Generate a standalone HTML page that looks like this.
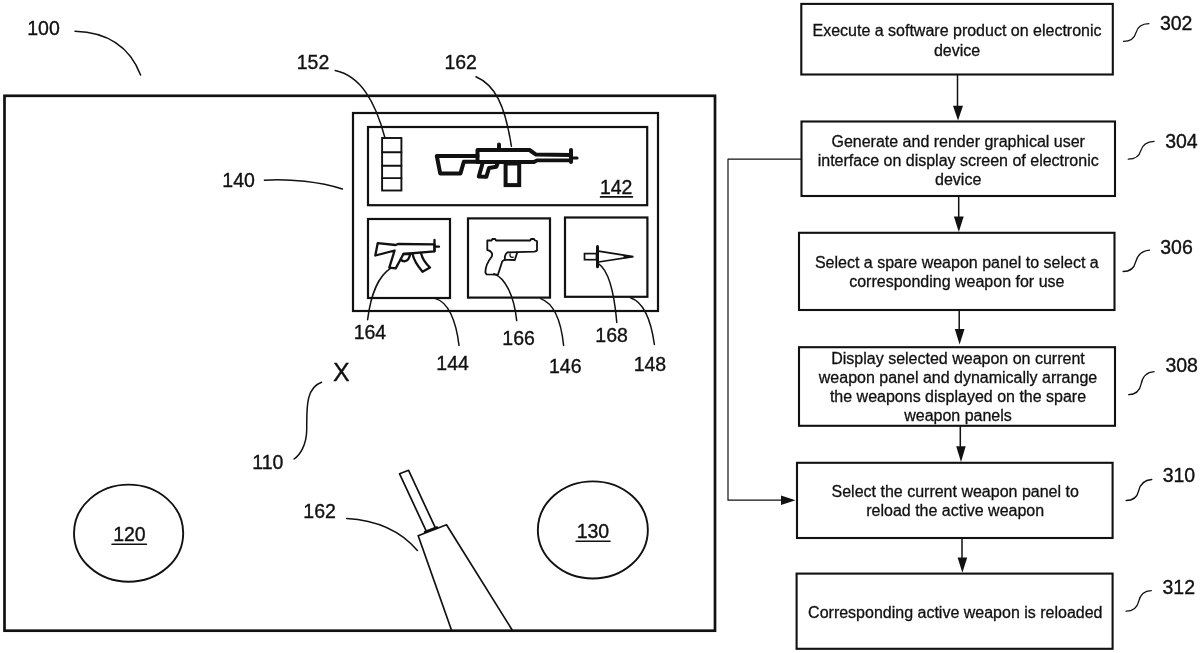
<!DOCTYPE html>
<html><head><meta charset="utf-8">
<style>
html,body{margin:0;padding:0;background:#fff;width:1200px;height:653px;overflow:hidden}
svg{display:block;will-change:transform}
.t{font-family:"Liberation Sans",sans-serif;font-size:16px;fill:#111;stroke:#111;stroke-width:0.3px;text-anchor:middle}
.l{font-family:"Liberation Sans",sans-serif;font-size:19.5px;fill:#111;stroke:#111;stroke-width:0.35px;text-anchor:middle}
.s{fill:none;stroke:#111;stroke-linecap:round;stroke-linejoin:round}
.s rect{stroke-linejoin:miter}
</style></head>
<body>
<svg width="1200" height="653" viewBox="0 0 1200 653">
<rect width="1200" height="653" fill="#fff"/>

<!-- ===== LEFT: device screen ===== -->
<g class="s">
  <rect x="4.5" y="95.8" width="710.5" height="534.9" stroke-width="2.7"/>
  <!-- panel 140 -->
  <rect x="353" y="113" width="305" height="198" stroke-width="2.2"/>
  <rect x="368" y="127" width="279.2" height="78.2" stroke-width="2.2"/>
  <rect x="368" y="219" width="82" height="79" stroke-width="2.2"/>
  <rect x="468" y="218.4" width="82" height="79.2" stroke-width="2.2"/>
  <rect x="565" y="217.5" width="82.4" height="79.3" stroke-width="2.2"/>
  <!-- ammo 152 -->
  <rect x="382.1" y="138" width="19.3" height="52.5" stroke-width="1.9"/>
  <path d="M382.1 152.2H401.4M382.1 165.8H401.4M382.1 178.1H401.4" stroke-width="1.9"/>
</g>

<!-- rifle 162 in 142 -->
<g class="s" stroke-width="4">
  <path d="M477.5 156 L436.8 156 L440.2 173.4 L460.5 173.4 L463.8 161.8 L477.5 161.8"/>
  <path d="M477.5 162 L477.5 150 L529.5 150 L536 154.6 L571 155"/>
  <path d="M477.5 162 L534 162 L537 160.3 L571 160.3" stroke-width="3.8"/>
  <path d="M571 150 L571 162"/>
  <path d="M571 158 L577 158" stroke-width="3.2"/>
  <path d="M499 144.5 L499 149"/>
  <path d="M482.5 163.5 L478.8 176.5 L486.3 176.8 L489 168 L496.3 166.8 L497.5 163.5"/>
  <rect x="505.6" y="163.5" width="13.6" height="21.6"/>
</g>

<!-- smg 164 -->
<g class="s" stroke-width="2.3">
  <path d="M403.4 254 L434.5 251.3 L434.5 244.3 L398 244 L395.7 245 L377.7 243.2 L375.3 255.5 L394.6 250.5 L389.3 267.6 L395.7 268.4 L400.8 259"/>
  <path d="M403.4 254 L410.2 254 C409.5 258 408.5 260.5 405 261.2 C403 261.5 401.5 260.5 400.8 259 Z"/>
  <path d="M412.5 253.8 C413.5 259 416 264 422.5 271.8 L430 267.5 C424 262 422 258 421 252.8"/>
  <path d="M434.5 240 L434.5 251.3M434.5 246.7 L439 246.7"/>
</g>

<!-- pistol 166 -->
<g class="s" stroke-width="1.8">
  <path d="M487.3 240.5 L491.6 240.5 L492.4 239 L495.2 239 L496 240.5 L530.2 240.5 L531 239 L534 239 L535 240.5 L537 241 L537 250.6 L534.5 251.6 L507.5 252.3 C505.3 254 504.5 257 505 259.8 L503.8 260.2 L502.2 261.4 L498 274.6 L486.6 274.4 L485.4 272.6 C485.2 267 487.5 262 491.8 256.5 C492.8 253.8 491.5 250.6 487.3 250 Z"/>
  <path d="M505 259.8 L514.8 260 L517.2 252.5"/>
  <path d="M510.2 254 C509.5 256.5 511 257.6 513.2 257.2" stroke-width="1.3"/>
</g>

<!-- knife 168 -->
<g class="s">
  <rect x="584.5" y="253.6" width="12" height="6.1" stroke-width="1.7" stroke-linejoin="miter"/>
  <path d="M597.5 246.5 L597.5 266.8" stroke-width="3"/>
  <path d="M598.5 251.2 L633.3 256.7 L598.5 262" stroke-width="1.7" stroke-linejoin="miter"/>
  <path d="M624 255.3 L633.3 256.7 L624 258.2 Z" fill="#111" stroke-width="0.5"/>
</g>

<!-- gun 162 bottom -->
<g class="s" stroke-width="1.7">
  <path d="M426.5 531.7 L399.6 473.8 L408.6 470.3 L435.5 528.2"/>
  <path d="M451.8 631 L418.2 535.8 L446.5 524.8 L512.8 631"/>
  <path d="M425 531.9 L437 527.5" stroke-width="2.6"/>
</g>

<!-- ellipses -->
<g class="s" stroke-width="1.9">
  <ellipse cx="128.6" cy="533.2" rx="54.6" ry="48.6"/>
  <ellipse cx="592.85" cy="529.95" rx="55" ry="48.6"/>
</g>

<!-- leaders -->
<g class="s" stroke-width="1.5">
  <path d="M75 31.3 C100 32 127 40 140.6 75"/>
  <path d="M335.2 70.6 C360 76 375 100 385 138"/>
  <path d="M476 76.8 C495 85 505 105 511.4 146.2"/>
  <path d="M264.4 180.2 C290 178.5 320 182 342.4 189"/>
  <path d="M390.5 268.3 C380 275 371 292 367.6 319.7"/>
  <path d="M435.5 298.6 C448 302 456 320 459 345.4"/>
  <path d="M493.8 273.8 C505 278 514 295 516.7 320.6"/>
  <path d="M540.6 298.6 C553 303 561 320 563.6 345.4"/>
  <path d="M598.4 263.7 C608 270 614 290 616.8 322.5"/>
  <path d="M630.5 297.7 C643 302 651 320 654.4 344.5"/>
  <path d="M321.6 382.2 C305 388 307 410 306.7 430 C306.5 445 300 455 294.1 459"/>
  <path d="M346.7 518.4 C375 520 400 530 417.4 550.4"/>
</g>

<!-- labels -->
<g class="l">
  <text x="43.5" y="34.8">100</text>
  <text x="313" y="69.4">152</text>
  <text x="460.7" y="69.2">162</text>
  <text x="238.6" y="187">140</text>
  <text x="616.2" y="194.4">142</text>
  <text x="369.9" y="339">164</text>
  <text x="452.6" y="370.2">144</text>
  <text x="518.6" y="344.5">166</text>
  <text x="565.3" y="373">146</text>
  <text x="611.6" y="341.8">168</text>
  <text x="649.9" y="371.2">148</text>
  <text x="267.9" y="468.8">110</text>
  <text x="129.4" y="540.7">120</text>
  <text x="592.9" y="537.8">130</text>
  <text x="319.6" y="518.4">162</text>
  <text x="341.3" y="381.4" style="font-size:25px">X</text>
  <text x="1176.2" y="30">302</text>
  <text x="1181.4" y="147.9">304</text>
  <text x="1176.5" y="253.7">306</text>
  <text x="1181.7" y="372.4">308</text>
  <text x="1178.9" y="482.3">310</text>
  <text x="1178.8" y="593.6">312</text>
</g>
<g class="s" stroke-width="1.6">
  <path d="M600.6 196.9H632.4" stroke-width="1.7"/>
  <path d="M112 544.3H146.4"/>
  <path d="M576.1 541.2H610"/>
</g>

<!-- ===== RIGHT: flowchart ===== -->
<g class="s" stroke-width="2.1">
  <rect x="801.3" y="3.9" width="311.5" height="70.6"/>
  <rect x="801.5" y="121.5" width="313.5" height="74.5"/>
  <rect x="799" y="232.8" width="315.5" height="77.2"/>
  <rect x="799" y="347.2" width="316" height="78.6"/>
  <rect x="797" y="462.8" width="315.6" height="75.2"/>
  <rect x="796.6" y="573.6" width="316" height="75.2"/>
</g>
<!-- arrows -->
<g class="s" stroke-width="1.5">
  <path d="M957.5 75.5V106M958.7 197V216.4M959.2 311V329M960.3 426.8V446.2M962 539V557.6"/>
  <path d="M728 159.2H801M728 159.2V500.2H782" stroke-width="1.2"/>
</g>
<g fill="#111">
  <polygon points="953,105.8 963,105.8 958,120.5"/>
  <polygon points="953.9,216.4 963.7,216.4 958.8,232"/>
  <polygon points="954.8,329 964.5,329 959.6,344.6"/>
  <polygon points="956.2,446.2 965.7,446.2 961,461.9"/>
  <polygon points="957.6,557.6 967.2,557.6 962.4,572.7"/>
  <polygon points="781,495.6 795.5,500.2 781,504.9"/>
</g>
<!-- squiggles -->
<g class="s" stroke-width="1.3">
  <path d="M1123.4 41.3c7 0 11-3 12.5-8.5c1.5-5.5 6-9 13-9.1"/>
  <path d="M1128.3 159.2c7 0 11-3 12.5-8.5c1.5-5.5 6-9 13.3-9.3"/>
  <path d="M1123.1 271.5c7 0 11-3 12.5-9.5c1.5-6.5 6-11 13.9-11.8"/>
  <path d="M1128.6 394.7c7 0 11-3 12.5-10.5c1.5-8 6-12 13-12.5"/>
  <path d="M1126.1 500.5c7 0 11-3 12.5-9.5c1.5-7 6-11 13.2-11.5"/>
  <path d="M1126.1 611.2c7 0 11-3 12.5-9.5c1.5-7 6-11 12.7-11.1"/>
</g>
<!-- box texts -->
<g class="t">
  <text x="957" y="36.3">Execute a software product on electronic</text>
  <text x="957" y="55.6">device</text>
  <text x="958.2" y="146.9">Generate and render graphical user</text>
  <text x="958.2" y="165.8">interface on display screen of electronic</text>
  <text x="958.2" y="184.7">device</text>
  <text x="956.8" y="268.3">Select a spare weapon panel to select a</text>
  <text x="956.8" y="287.4">corresponding weapon for use</text>
  <text x="958" y="364">Display selected weapon on current</text>
  <text x="958" y="383">weapon panel and dynamically arrange</text>
  <text x="958" y="401.8">the weapons displayed on the spare</text>
  <text x="958" y="421">weapon panels</text>
  <text x="955.2" y="497.3">Select the current weapon panel to</text>
  <text x="955.2" y="516.2">reload the active weapon</text>
  <text x="955.3" y="618">Corresponding active weapon is reloaded</text>
</g>
</svg>
</body></html>
